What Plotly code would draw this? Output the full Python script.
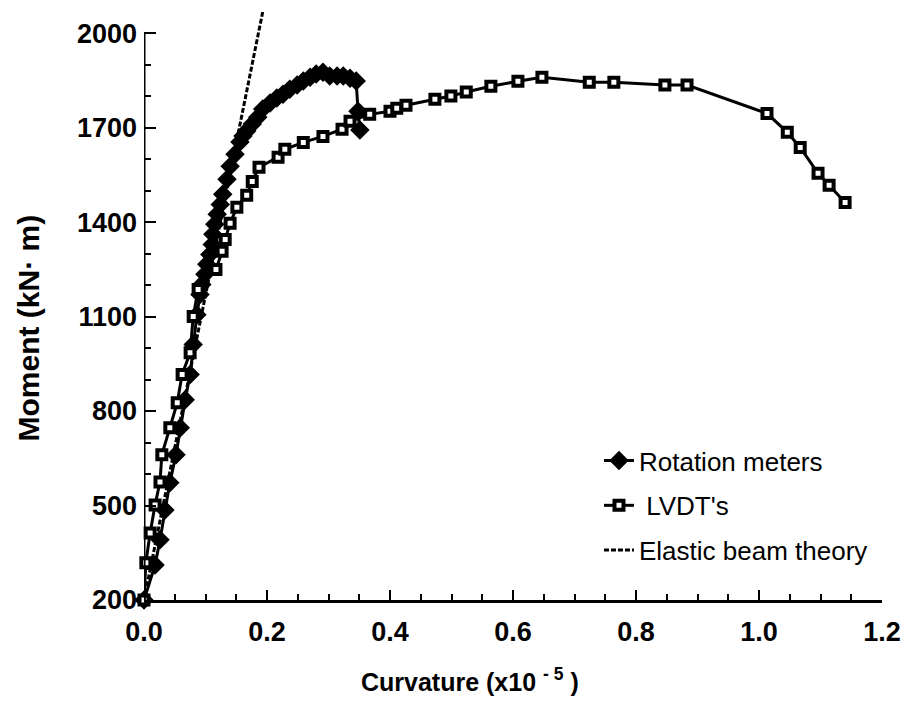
import plotly.graph_objects as go

# Rotation meters (curvature x1e-5, moment kN·m)
rot_x = [0.0, 0.018, 0.026, 0.034, 0.042, 0.052, 0.059, 0.067, 0.075, 0.080, 0.086,
         0.091, 0.094, 0.099, 0.102, 0.107, 0.111, 0.112, 0.115, 0.119, 0.124, 0.128,
         0.135, 0.140, 0.148, 0.156, 0.161, 0.167, 0.176, 0.185, 0.193, 0.205, 0.216,
         0.226, 0.237, 0.249, 0.259, 0.270, 0.280, 0.291, 0.302, 0.314, 0.324, 0.335,
         0.345, 0.348, 0.351]
rot_y = [200, 311, 391, 486, 572, 661, 747, 836, 916, 1011, 1106,
         1170, 1202, 1234, 1266, 1297, 1329, 1361, 1393, 1425, 1456, 1488,
         1536, 1577, 1615, 1654, 1673, 1689, 1711, 1733, 1759, 1778, 1794,
         1806, 1822, 1835, 1848, 1860, 1870, 1876, 1864, 1864, 1864, 1857,
         1848, 1752, 1692]

# LVDT's
lvdt_x = [0.0, 0.003, 0.010, 0.018, 0.026, 0.029, 0.042, 0.054, 0.062, 0.075, 0.080,
          0.088, 0.117, 0.127, 0.132, 0.140, 0.151, 0.167, 0.176, 0.187, 0.218, 0.229,
          0.259, 0.291, 0.322, 0.335, 0.367, 0.400, 0.411, 0.426, 0.473, 0.499, 0.524,
          0.564, 0.608, 0.647, 0.724, 0.764, 0.847, 0.883, 1.013, 1.046, 1.067, 1.096,
          1.114, 1.140]
lvdt_y = [200, 318, 413, 502, 575, 661, 747, 826, 916, 985, 1100,
          1186, 1249, 1307, 1345, 1396, 1447, 1485, 1529, 1574, 1606, 1631,
          1653, 1672, 1695, 1720, 1742, 1752, 1761, 1771, 1790, 1800, 1813,
          1831, 1847, 1860, 1844, 1844, 1835, 1835, 1745, 1685, 1637, 1555,
          1517, 1462]

# Elastic beam theory
elastic_x = [0.0, 0.193]
elastic_y = [200, 2067]

x_ticks = [0.0, 0.2, 0.4, 0.6, 0.8, 1.0, 1.2]
y_ticks = [200, 500, 800, 1100, 1400, 1700, 2000]

x_title = "Curvature (x10 <sup>- 5</sup> )"
y_title = "Moment (kN· m)"

FONT = "Liberation Sans"

fig = go.Figure()
fig.add_trace(go.Scatter(
    x=rot_x, y=rot_y, mode="lines+markers", name="Rotation meters",
    legendgroup="a",
    line=dict(color="black", width=3),
    marker=dict(symbol="diamond", size=15, color="black"),
    cliponaxis=False))
fig.add_trace(go.Scatter(
    x=lvdt_x, y=lvdt_y, mode="lines+markers", name=" LVDT's",
    legendgroup="b",
    line=dict(color="black", width=3),
    marker=dict(symbol="square", size=9, color="white",
                line=dict(color="black", width=4)),
    cliponaxis=False))
fig.add_trace(go.Scatter(
    x=elastic_x, y=elastic_y, mode="lines", name="Elastic beam theory",
    legendgroup="c",
    line=dict(color="black", width=3, dash="5px,2px")))

# y axis line only up to the top tick
fig.add_shape(type="line", xref="x", yref="y", x0=0, x1=0,
              y0=y_ticks[0], y1=y_ticks[-1],
              line=dict(color="black", width=3), layer="above")

fig.add_annotation(text=x_title, xref="paper", yref="paper",
                   x=0.442, y=-0.136, xanchor="center", yanchor="middle",
                   showarrow=False,
                   font=dict(family=FONT, size=25, color="black", weight="bold"))
fig.add_annotation(text=y_title, xref="paper", yref="paper",
                   x=-0.157, y=0.462, xanchor="center", yanchor="middle",
                   textangle=-90, showarrow=False,
                   font=dict(family=FONT, size=30, color="black", weight="bold"))

fig.update_layout(
    width=903, height=696,
    margin=dict(l=136, r=29, t=4, b=104, autoexpand=False),
    paper_bgcolor="white", plot_bgcolor="white",
    font=dict(family=FONT, color="black"),
    legend=dict(x=0.6165, y=0.277, xanchor="left", yanchor="top",
                font=dict(family=FONT, size=26, color="black"),
                tracegroupgap=8, bgcolor="rgba(0,0,0,0)"),
)
fig.update_xaxes(
    range=[0, 1.2], tickvals=x_ticks, tickformat=".1f", automargin=False,
    ticks="inside", ticklen=10, tickwidth=2, tickcolor="black",
    minor=dict(dtick=0.05, ticks="inside", ticklen=6, tickwidth=2, tickcolor="black"),
    showline=True, linecolor="black", linewidth=3,
    showgrid=False, zeroline=False, ticklabelstandoff=6,
    tickfont=dict(family=FONT, size=27, color="black", weight="bold"),
)
fig.update_yaxes(
    range=[200, 2067], tickvals=y_ticks, automargin=False,
    ticks="inside", ticklen=12, tickwidth=2, tickcolor="black",
    minor=dict(dtick=100, tick0=200, ticks="inside", ticklen=7, tickwidth=2, tickcolor="black"),
    showline=False, showgrid=False, zeroline=False, ticklabelstandoff=6,
    tickfont=dict(family=FONT, size=27, color="black", weight="bold"),
)

fig.write_html("out.html")
